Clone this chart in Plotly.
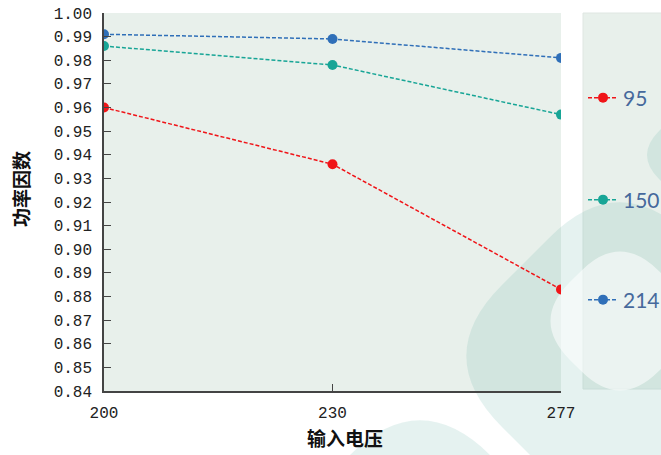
import plotly.graph_objects as go

voltages = ["200", "230", "277"]
pf_95 = [0.960, 0.936, 0.883]
pf_150 = [0.986, 0.978, 0.957]
pf_214 = [0.991, 0.989, 0.981]
series_names = ["95", "150", "214"]
series_colors = ["#f01418", "#17a596", "#2f6fb8"]
y_ticks = [0.84, 0.85, 0.86, 0.87, 0.88, 0.89, 0.90, 0.91, 0.92, 0.93, 0.94, 0.95, 0.96, 0.97, 0.98, 0.99, 1.00]
x_title = "输入电压"
y_title = "功率因数"

W, H = 661, 455
ML, MR, MT, MB = 104, 100, 13, 64
PW, PH = W - ML - MR, H - MT - MB


def to_paper(px, py):
    return (px - ML) / PW, (H - MB - py) / PH


def rounded_diamond(cx, cy, r, t):
    """Decorative watermark path (pixel geometry -> paper coords)."""
    corners = [(cx, cy - r), (cx + r, cy), (cx, cy + r), (cx - r, cy)]
    parts = []
    n = len(corners)
    for i in range(n):
        c = corners[i]
        prev = corners[i - 1]
        nxt = corners[(i + 1) % n]
        dpx, dpy = prev[0] - c[0], prev[1] - c[1]
        dnx, dny = nxt[0] - c[0], nxt[1] - c[1]
        lp = (dpx ** 2 + dpy ** 2) ** 0.5
        ln = (dnx ** 2 + dny ** 2) ** 0.5
        a = (c[0] + dpx / lp * t, c[1] + dpy / lp * t)
        b = (c[0] + dnx / ln * t, c[1] + dny / ln * t)
        pa, pc, pb = to_paper(*a), to_paper(*c), to_paper(*b)
        cmd = "M" if i == 0 else "L"
        parts.append(f"{cmd}{pa[0]:.4f},{pa[1]:.4f} Q{pc[0]:.4f},{pc[1]:.4f} {pb[0]:.4f},{pb[1]:.4f}")
    return " ".join(parts) + " Z"


fig = go.Figure()
legend_keys = ["legend", "legend2", "legend3"]
for name, vals, col, lg in zip(series_names, [pf_95, pf_150, pf_214], series_colors, legend_keys):
    fig.add_trace(go.Scatter(
        x=voltages, y=vals, name=name, mode="lines+markers",
        line=dict(color=col, width=1.5, dash="4px,2px"),
        marker=dict(color=col, size=10),
        legend=lg,
    ))

leg_font = dict(family="Lato, Open Sans, sans-serif", size=21, color="#46699c")
lx, _ = to_paper(583, 0)
common_leg = dict(x=lx, xanchor="left", yanchor="middle", bgcolor="rgba(0,0,0,0)",
                  font=leg_font, itemwidth=30)

teal = "rgba(100,178,168,0.17)"
whiteov = "rgba(255,255,255,0.55)"
bg = "#e8f0eb"
p0 = to_paper(583, 13)
p1 = to_paper(700, 389)

shapes = [
    dict(type="rect", xref="paper", yref="paper", x0=0, x1=1, y0=0, y1=1,
         fillcolor=bg, line=dict(width=0), layer="below"),
    dict(type="rect", xref="paper", yref="paper", x0=p0[0], x1=p1[0], y0=p1[1], y1=p0[1],
         fillcolor=bg, line=dict(color="#dfe6e2", width=1), layer="below"),
    dict(type="path", xref="paper", yref="paper", path=rounded_diamond(620, 356, 189, 100),
         fillcolor=teal, line=dict(width=0), layer="below"),
    dict(type="path", xref="paper", yref="paper", path=rounded_diamond(420, 535, 150, 100),
         fillcolor=teal, line=dict(width=0), layer="below"),
    dict(type="path", xref="paper", yref="paper", path=rounded_diamond(735, 155, 100, 34),
         fillcolor=teal, line=dict(width=0), layer="below"),
    dict(type="path", xref="paper", yref="paper", path=rounded_diamond(620, 321, 89, 55),
         fillcolor=whiteov, line=dict(width=0), layer="below"),
]

xt = to_paper(345, 437)
yt = to_paper(20, 189)

fig.update_layout(
    width=W, height=H,
    margin=dict(l=ML, r=MR, t=MT, b=MB, autoexpand=False),
    paper_bgcolor="white",
    plot_bgcolor="rgba(0,0,0,0)",
    showlegend=True,
    legend=dict(y=to_paper(0, 98)[1], **common_leg),
    legend2=dict(y=to_paper(0, 200)[1], **common_leg),
    legend3=dict(y=to_paper(0, 300)[1], **common_leg),
    xaxis=dict(
        type="category", range=[0, 2], showgrid=False, zeroline=False,
        showline=True, linecolor="#444", linewidth=1.5,
        ticks="inside", ticklen=7, tickcolor="#444", tickwidth=1,
        ticklabelstandoff=6,
        tickfont=dict(family="Liberation Mono, monospace", size=16, color="#222"),
    ),
    yaxis=dict(
        range=[0.84, 1.00], tickvals=y_ticks, tickformat=".2f", showgrid=False, zeroline=False,
        showline=True, linecolor="#444", linewidth=1.5,
        ticks="inside", ticklen=7, tickcolor="#444", tickwidth=1,
        ticklabelstandoff=7,
        tickfont=dict(family="Liberation Mono, monospace", size=16, color="#222"),
    ),
    shapes=shapes,
    annotations=[
        dict(text=x_title, xref="paper", yref="paper", x=xt[0], y=xt[1], xanchor="center", yanchor="middle",
             showarrow=False, font=dict(family="Noto Sans CJK SC", size=19, color="#111", weight="bold")),
        dict(text=y_title, xref="paper", yref="paper", x=yt[0], y=yt[1], xanchor="center", yanchor="middle",
             textangle=-90, showarrow=False,
             font=dict(family="Noto Sans CJK SC", size=19, color="#111", weight="bold")),
    ],
)

fig.write_html("out.html")
